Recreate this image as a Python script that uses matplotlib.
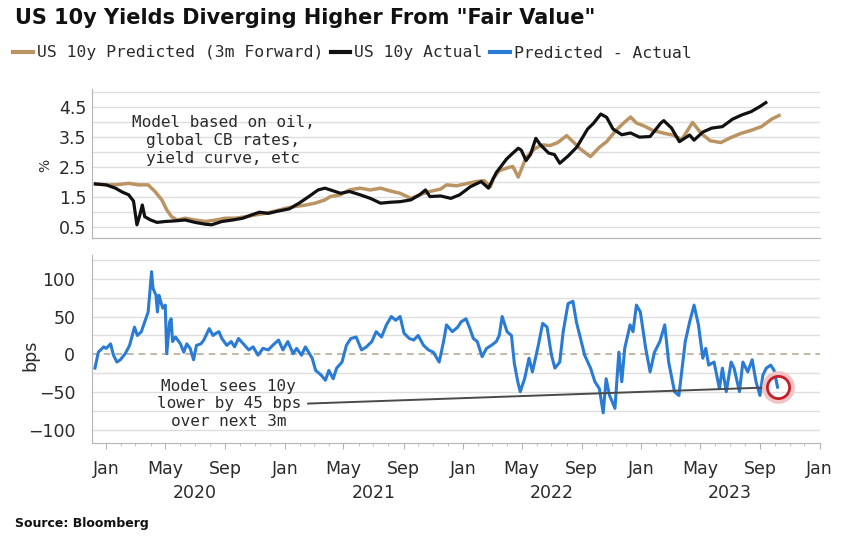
import matplotlib

matplotlib.use("Agg")
import matplotlib.dates as mdates
import matplotlib.pyplot as plt
import pandas as pd
from matplotlib.lines import Line2D
from matplotlib.ticker import FixedLocator

# --- values ---
actual_dates = [
    "2019-12-10", "2020-01-01", "2020-01-20", "2020-02-03", "2020-02-16", "2020-02-26",
    "2020-03-04", "2020-03-10", "2020-03-15", "2020-03-20", "2020-04-01", "2020-04-14",
    "2020-05-01", "2020-05-21", "2020-06-11", "2020-07-01", "2020-07-22", "2020-08-04",
    "2020-08-25", "2020-09-16", "2020-10-07", "2020-10-25", "2020-11-10", "2020-11-28",
    "2020-12-19", "2021-01-10", "2021-01-30", "2021-02-19", "2021-03-10", "2021-03-24",
    "2021-04-10", "2021-04-25", "2021-05-13", "2021-06-04", "2021-06-25", "2021-07-16",
    "2021-08-04", "2021-08-25", "2021-09-16", "2021-10-04", "2021-10-16", "2021-10-25",
    "2021-11-16", "2021-12-07", "2021-12-25", "2022-01-16", "2022-02-07", "2022-02-22",
    "2022-03-10", "2022-03-31", "2022-04-13", "2022-04-24", "2022-04-30", "2022-05-10",
    "2022-05-19", "2022-05-30", "2022-06-07", "2022-06-25", "2022-07-07", "2022-07-18",
    "2022-08-04", "2022-08-22", "2022-09-13", "2022-09-25", "2022-10-10", "2022-10-22",
    "2022-11-04", "2022-11-22", "2022-12-10", "2022-12-28", "2023-01-19", "2023-02-10",
    "2023-02-16", "2023-03-04", "2023-03-20", "2023-04-10", "2023-04-19", "2023-05-07",
    "2023-05-25", "2023-06-16", "2023-07-07", "2023-07-26", "2023-08-14", "2023-09-01",
    "2023-09-13",
]
actual_yield = [
    1.92, 1.89, 1.78, 1.65, 1.56, 1.35,
    0.56, 0.89, 1.22, 0.83, 0.72, 0.64,
    0.67, 0.69, 0.72, 0.64, 0.58, 0.56,
    0.67, 0.72, 0.78, 0.89, 0.98, 0.94,
    1.02, 1.09, 1.28, 1.50, 1.72, 1.78,
    1.69, 1.61, 1.67, 1.56, 1.44, 1.28,
    1.31, 1.33, 1.39, 1.56, 1.72, 1.50,
    1.52, 1.44, 1.56, 1.83, 2.00, 1.78,
    2.30, 2.75, 2.95, 3.11, 3.05, 2.70,
    2.90, 3.44, 3.25, 2.95, 2.90, 2.61,
    2.85, 3.15, 3.75, 3.94, 4.25, 4.14,
    3.75, 3.56, 3.62, 3.48, 3.50, 3.95,
    4.03, 3.78, 3.33, 3.55, 3.38, 3.65,
    3.78, 3.83, 4.08, 4.22, 4.33, 4.50,
    4.63,
]

predicted_dates = [
    "2019-12-10", "2020-01-01", "2020-01-20", "2020-02-16", "2020-03-07", "2020-03-27",
    "2020-04-10", "2020-04-24", "2020-05-04", "2020-05-14", "2020-05-25", "2020-06-11",
    "2020-07-01", "2020-07-22", "2020-08-13", "2020-09-01", "2020-09-22", "2020-10-13",
    "2020-11-02", "2020-11-22", "2020-12-13", "2021-01-03", "2021-01-22", "2021-02-13",
    "2021-03-04", "2021-03-24", "2021-04-04", "2021-04-25", "2021-05-13", "2021-06-04",
    "2021-06-25", "2021-07-16", "2021-08-04", "2021-08-25", "2021-09-16", "2021-10-04",
    "2021-10-25", "2021-11-16", "2021-11-28", "2021-12-19", "2022-01-10", "2022-01-28",
    "2022-02-13", "2022-02-26", "2022-03-04", "2022-03-16", "2022-04-04", "2022-04-13",
    "2022-04-24", "2022-05-10", "2022-05-28", "2022-06-13", "2022-06-28", "2022-07-14",
    "2022-08-01", "2022-08-16", "2022-08-28", "2022-09-19", "2022-10-07", "2022-10-22",
    "2022-11-10", "2022-11-25", "2022-12-10", "2022-12-22", "2023-01-07", "2023-01-25",
    "2023-02-19", "2023-03-07", "2023-03-25", "2023-04-16", "2023-05-04", "2023-05-22",
    "2023-06-13", "2023-07-04", "2023-07-25", "2023-08-13", "2023-09-04", "2023-09-25",
    "2023-10-10",
]
predicted_yield = [
    1.92, 1.89, 1.89, 1.94, 1.89, 1.89,
    1.67, 1.39, 1.06, 0.83, 0.72, 0.78,
    0.72, 0.67, 0.72, 0.78, 0.78, 0.83,
    0.89, 0.94, 1.02, 1.11, 1.17, 1.22,
    1.28, 1.39, 1.50, 1.56, 1.72, 1.78,
    1.72, 1.78, 1.69, 1.61, 1.44, 1.56,
    1.67, 1.75, 1.89, 1.86, 1.94, 2.00,
    2.03, 1.83, 2.11, 2.36, 2.47, 2.50,
    2.15, 2.80, 3.10, 3.22, 3.20, 3.30,
    3.53, 3.30, 3.10, 2.83, 3.14, 3.33,
    3.70, 3.94, 4.15, 3.95, 3.85, 3.70,
    3.60, 3.55, 3.40, 3.97, 3.60, 3.36,
    3.30, 3.47, 3.61, 3.70, 3.83, 4.08,
    4.20,
]

gap_dates = [
    "2019-12-09", "2019-12-16", "2019-12-27", "2020-01-01", "2020-01-10", "2020-01-16",
    "2020-01-23", "2020-01-30", "2020-02-09", "2020-02-18", "2020-02-28", "2020-03-05",
    "2020-03-13", "2020-03-19", "2020-03-27", "2020-04-03", "2020-04-06", "2020-04-12",
    "2020-04-15", "2020-04-18", "2020-04-22", "2020-04-26", "2020-05-01", "2020-05-04",
    "2020-05-10", "2020-05-13", "2020-05-16", "2020-05-22", "2020-06-01", "2020-06-08",
    "2020-06-14", "2020-06-21", "2020-06-28", "2020-07-04", "2020-07-13", "2020-07-19",
    "2020-07-30", "2020-08-07", "2020-08-13", "2020-08-19", "2020-08-25", "2020-09-04",
    "2020-09-13", "2020-09-20", "2020-09-28", "2020-10-08", "2020-10-19", "2020-10-28",
    "2020-11-07", "2020-11-17", "2020-11-28", "2020-12-07", "2020-12-19", "2020-12-28",
    "2021-01-07", "2021-01-18", "2021-01-25", "2021-02-04", "2021-02-12", "2021-02-26",
    "2021-03-05", "2021-03-16", "2021-03-25", "2021-04-01", "2021-04-10", "2021-04-17",
    "2021-04-28", "2021-05-07", "2021-05-16", "2021-05-27", "2021-06-07", "2021-06-17",
    "2021-06-28", "2021-07-07", "2021-07-18", "2021-07-28", "2021-08-07", "2021-08-16",
    "2021-08-25", "2021-09-02", "2021-09-13", "2021-09-22", "2021-10-01", "2021-10-12",
    "2021-10-22", "2021-11-01", "2021-11-13", "2021-11-22", "2021-11-28", "2021-12-10",
    "2021-12-21", "2021-12-28", "2022-01-07", "2022-01-15", "2022-01-22", "2022-01-30",
    "2022-02-09", "2022-02-18", "2022-02-28", "2022-03-10", "2022-03-16", "2022-03-22",
    "2022-04-01", "2022-04-10", "2022-04-16", "2022-04-23", "2022-04-28", "2022-05-07",
    "2022-05-16", "2022-05-23", "2022-06-04", "2022-06-13", "2022-06-22", "2022-07-01",
    "2022-07-08", "2022-07-18", "2022-07-25", "2022-08-04", "2022-08-14", "2022-08-21",
    "2022-08-28", "2022-09-07", "2022-09-19", "2022-09-28", "2022-10-07", "2022-10-15",
    "2022-10-21", "2022-10-28", "2022-11-08", "2022-11-16", "2022-11-22", "2022-11-28",
    "2022-12-09", "2022-12-15", "2022-12-22", "2022-12-30", "2023-01-10", "2023-01-19",
    "2023-01-28", "2023-02-08", "2023-02-18", "2023-02-26", "2023-03-10", "2023-03-19",
    "2023-04-01", "2023-04-10", "2023-04-19", "2023-04-28", "2023-05-07", "2023-05-13",
    "2023-05-19", "2023-05-30", "2023-06-10", "2023-06-16", "2023-06-24", "2023-07-04",
    "2023-07-10", "2023-07-21", "2023-07-28", "2023-08-07", "2023-08-16", "2023-08-24",
    "2023-09-01", "2023-09-07", "2023-09-14", "2023-09-23", "2023-09-30", "2023-10-07",
]
gap_bps = [
    -18, 3, 10, 8, 14, -1,
    -10, -7, 1, 12, 36, 25,
    30, 41, 56, 109, 87, 78,
    56, 78, 69, 61, 65, 1,
    43, 47, 17, 23, 14, 3,
    14, 8, -7, 12, 14, 19,
    34, 25, 28, 30, 21, 12,
    17, 10, 21, 14, 6, 10,
    -1, 8, 6, 12, 19, 6,
    17, 1, 8, -1, 10, -5,
    -21, -27, -34, -21, -32, -18,
    -10, 12, 21, 23, 6, 10,
    17, 30, 23, 39, 50, 45,
    50, 28, 21, 19, 25, 12,
    6, 3, -10, 17, 39, 30,
    36, 43, 47, 34, 21, 17,
    -3, 8, 12, 17, 25, 50,
    30, 25, -12, -36, -49, -32,
    -5, -23, 12, 41, 36, -1,
    -18, -10, 30, 67, 70, 43,
    25, -1, -18, -36, -45, -77,
    -32, -54, -71, 3, -36, 8,
    39, 30, 65, 56, 8, -23,
    3, 17, 39, -10, -49, -54,
    17, 43, 65, 39, -5, 8,
    -14, -10, -45, -18, -49, -10,
    -18, -49, -10, -23, -7, -36,
    -54, -27, -18, -14, -21, -43,
]

year_labels = ["2020", "2021", "2022", "2023"]
legend_labels = ["US 10y Predicted (3m Forward)", "US 10y Actual", "Predicted - Actual"]

GOLD = "#bb9463"
BLACK = "#111111"
BLUE = "#2a7bd3"
GRID = "#dedede"
SPINE = "#b5b5b5"
TEXT = "#2b2b2b"
MONO = "DejaVu Sans Mono"

actual_x = pd.to_datetime(actual_dates)
pred_x = pd.to_datetime(predicted_dates)
gap_x = pd.to_datetime(gap_dates)

fig = plt.figure(figsize=(8.48, 5.47), dpi=100)
fig.patch.set_facecolor("white")
ax1 = fig.add_axes([0.1085, 0.5649, 0.8585, 0.2733])
ax2 = fig.add_axes([0.1085, 0.1896, 0.8585, 0.3442], sharex=ax1)

# top panel: yields
ax1.plot(pred_x, predicted_yield, color=GOLD, linewidth=2.5, solid_joinstyle="round")
ax1.plot(actual_x, actual_yield, color=BLACK, linewidth=2.3, solid_joinstyle="round")
ax1.set_ylim(0.12, 5.1)
ax1.yaxis.set_major_locator(FixedLocator([0.5, 1.5, 2.5, 3.5, 4.5]))
ax1.yaxis.set_minor_locator(FixedLocator([1.0, 2.0, 3.0, 4.0, 5.0]))
ax1.grid(True, axis="y", which="both", color=GRID, linewidth=1.0)
ax1.tick_params(axis="y", which="both", length=0, labelsize=12.5, pad=4, labelcolor=TEXT)
ax1.tick_params(axis="x", which="both", length=0, labelbottom=False)
ax1.text(pd.Timestamp("2020-08-28"), 3.36,
         "Model based on oil,\nglobal CB rates,\nyield curve, etc",
         family=MONO, fontsize=11.5, color=TEXT, ha="center", va="center", linespacing=1.25)

# bottom panel: spread in bps
ax2.plot(gap_x, gap_bps, color=BLUE, linewidth=2.2, solid_joinstyle="round")
ax2.set_ylim(-117, 131)
ax2.yaxis.set_major_locator(FixedLocator([-100, -50, 0, 50, 100]))
ax2.yaxis.set_minor_locator(FixedLocator([-75, -25, 25, 75, 125]))
ax2.grid(True, axis="y", which="both", color=GRID, linewidth=1.0)
ax2.yaxis.get_major_ticks()[2].gridline.set_visible(False)
ax2.axhline(0, color="#b9ad96", linewidth=1.2, dashes=(4, 3), zorder=1)
ax2.tick_params(axis="y", which="both", length=0, labelsize=12.5, pad=12, labelcolor=TEXT)

# last point highlighted
last_x, last_y = gap_x[-1], gap_bps[-1]
ax2.plot([last_x], [last_y], marker="o", markersize=20, markerfacecolor="none",
         markeredgecolor="#f2c4c6", markeredgewidth=3.5, zorder=4)
ax2.plot([last_x], [last_y], marker="o", markersize=16, markerfacecolor="none",
         markeredgecolor="#c41e2a", markeredgewidth=2.0, zorder=5)
ax2.annotate("Model sees 10y\nlower by 45 bps\nover next 3m",
             xy=(last_x, last_y), xytext=(pd.Timestamp("2020-09-08"), -65),
             family=MONO, fontsize=11.5, color=TEXT, ha="center", va="center", linespacing=1.2,
             arrowprops=dict(arrowstyle="-", color="#4a4a4a", linewidth=1.4,
                             relpos=(1.0, 0.5), shrinkA=3, shrinkB=9))

# x axis: Jan/May/Sep with years underneath
ax2.set_xlim(pd.Timestamp("2019-12-03"), pd.Timestamp("2024-01-02"))
ax2.xaxis.set_major_locator(mdates.MonthLocator(bymonth=[1, 5, 9]))
ax2.xaxis.set_minor_locator(mdates.MonthLocator())
ax2.xaxis.set_major_formatter(mdates.DateFormatter("%b"))
ax2.tick_params(axis="x", which="major", length=4, color=SPINE, labelsize=12.5, pad=8, labelcolor=TEXT)
ax2.tick_params(axis="x", which="minor", length=2, color=SPINE)
for yr in year_labels:
    ax2.text(pd.Timestamp(f"{yr}-07-01"), -0.264, yr, transform=ax2.get_xaxis_transform(),
             ha="center", va="center", fontsize=12.5, color=TEXT)

for ax in (ax1, ax2):
    ax.spines["top"].set_visible(False)
    ax.spines["right"].set_visible(False)
    ax.spines["left"].set_color(SPINE)
    ax.spines["bottom"].set_color(SPINE)
    ax.set_facecolor("white")

fig.text(45 / 848, 1 - 165 / 547, "%", rotation=90, fontsize=10, color=TEXT, ha="center", va="center")
fig.text(30 / 848, 1 - 355 / 547, "bps", rotation=90, fontsize=12.5, color=TEXT, ha="center", va="center")

# title, legend, source
fig.text(15 / 848, 1 - 18 / 547, 'US 10y Yields Diverging Higher From "Fair Value"',
         fontsize=15, fontweight="bold", color="#111111", ha="left", va="center")
handles = [Line2D([], [], color=c, linewidth=3) for c in (GOLD, BLACK, BLUE)]
fig.legend(handles, legend_labels, loc="center left", bbox_to_anchor=(13 / 848, 1 - 53 / 547),
           ncol=3, frameon=False, handlelength=1.2, handletextpad=0.25, columnspacing=0.45,
           borderpad=0, borderaxespad=0, prop={"family": MONO, "size": 11.8}, labelcolor=TEXT)
fig.text(15 / 848, 1 - 523 / 547, "Source: Bloomberg", fontsize=9, fontweight="bold",
         color="#111111", ha="left", va="center")

fig.savefig("out.png", dpi=100, facecolor="white")
plt.close(fig)
